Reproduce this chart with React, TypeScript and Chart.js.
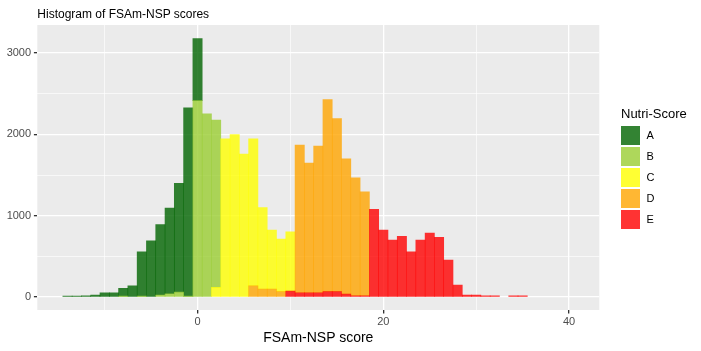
import React, { useEffect, useRef } from "react";
import { Chart, registerables } from "chart.js";

Chart.register(...registerables);

const FONT = '"Liberation Sans", Arial, Helvetica, sans-serif';

// Nutri-Score grades and fill colours (ggplot alpha 0.8)
const grades = ["A", "B", "C", "D", "E"];
const gradeColors = [
  "rgba(0,100,0,0.8)",
  "rgba(154,205,50,0.8)",
  "rgba(255,255,0,0.8)",
  "rgba(255,165,0,0.8)",
  "rgba(255,0,0,0.8)",
];

// Histogram bins (score -> count) per grade, bin width 1
const scoresA = [-14, -13, -12, -11, -10, -9, -8, -7, -6, -5, -4, -3, -2, -1, 0];
const countsA = [12, 12, 16, 25, 53, 53, 95, 139, 545, 693, 868, 1053, 1337, 2316, 763];

const scoresB = [-8, -6, -4, -3, -2, -1, 0, 1, 2];
const countsB = [12, 12, 25, 41, 61, 12, 2415, 2255, 2058];

const scoresC = [2, 3, 4, 5, 6, 7, 8, 9, 10];
const countsC = [119, 1947, 1999, 1758, 1810, 1004, 725, 647, 730];

const scoresD = [6, 7, 8, 9, 11, 12, 13, 14, 15, 16, 17, 18];
const countsD = [137, 98, 98, 66, 1816, 1594, 1804, 2364, 2129, 1663, 1449, 1279];

const scoresE = [10, 11, 12, 13, 14, 15, 16, 17, 18, 19, 20, 21, 22, 23, 24, 25, 26, 27, 28, 29, 30, 31, 32, 34, 35];
const countsE = [73, 53, 53, 53, 66, 66, 37, 16, 16, 1079, 824, 700, 748, 555, 700, 788, 734, 455, 147, 24, 24, 16, 16, 16, 16];

const xTicks = [-10, 0, 10, 20, 30, 40];
const xLabeled = [0, 20, 40];
const yTicks = [0, 500, 1000, 1500, 2000, 2500, 3000];
const yLabeled = [0, 1000, 2000, 3000];

const titleText = "Histogram of FSAm-NSP scores";
const xTitleText = "FSAm-NSP score";
const legendTitle = "Nutri-Score";

const PANEL = { left: 37.3, top: 25, right: 599.3, bottom: 310 };
const W = 701;
const H = 351;

const panelBg = {
  id: "panelBg",
  beforeDraw(chart: any) {
    const { ctx, chartArea } = chart;
    ctx.save();
    ctx.fillStyle = "#EBEBEB";
    ctx.fillRect(chartArea.left, chartArea.top, chartArea.right - chartArea.left, chartArea.bottom - chartArea.top);
    ctx.restore();
  },
};

function pts(scores: number[], counts: number[]) {
  return scores.map((s, i) => ({ x: s, y: counts[i] }));
}

export default function App() {
  const ref = useRef<HTMLCanvasElement | null>(null);

  useEffect(() => {
    if (!ref.current) return;
    const series = [
      pts(scoresA, countsA),
      pts(scoresB, countsB),
      pts(scoresC, countsC),
      pts(scoresD, countsD),
      pts(scoresE, countsE),
    ];
    // stack bottom-to-top: E, D, C, B, A
    const order = [4, 3, 2, 1, 0];
    const datasets = order.map((g) => ({
      label: grades[g],
      data: series[g],
      backgroundColor: gradeColors[g],
      borderWidth: 0,
      barPercentage: 1,
      categoryPercentage: 1,
    }));

    const major = (v: number, list: number[]) => list.includes(v);

    const chart = new Chart(ref.current, {
      type: "bar",
      data: { datasets } as any,
      plugins: [panelBg],
      options: {
        animation: false,
        responsive: false,
        devicePixelRatio: 1,
        layout: {
          padding: { left: 0, top: PANEL.top, right: W - PANEL.right, bottom: 0 },
        },
        plugins: {
          legend: { display: false },
          tooltip: { enabled: false },
          title: { display: false },
        },
        scales: {
          x: {
            type: "linear",
            stacked: true,
            min: -17.25,
            max: 43.25,
            offset: false,
            border: { display: false },
            afterBuildTicks: (scale: any) => {
              scale.ticks = xTicks.map((v) => ({ value: v }));
            },
            afterFit: (scale: any) => {
              scale.height = H - PANEL.bottom;
            },
            grid: {
              offset: false,
              color: "#FFFFFF",
              lineWidth: (c: any) => (major(c.tick?.value, xLabeled) ? 1.33 : 0.67),
              tickColor: (c: any) => (major(c.tick?.value, xLabeled) ? "#333333" : "rgba(0,0,0,0)"),
              tickWidth: 1.33,
              tickLength: 3.4,
              drawTicks: true,
            },
            ticks: {
              autoSkip: false,
              maxRotation: 0,
              padding: 1.5,
              color: "#4D4D4D",
              font: { family: FONT, size: 11 },
              callback: (v: any) => (xLabeled.includes(Number(v)) ? String(v) : ""),
            },
          },
          y: {
            type: "linear",
            stacked: true,
            min: -159,
            max: 3346,
            border: { display: false },
            afterBuildTicks: (scale: any) => {
              scale.ticks = yTicks.map((v) => ({ value: v }));
            },
            afterFit: (scale: any) => {
              scale.width = PANEL.left;
            },
            grid: {
              offset: false,
              color: "#FFFFFF",
              lineWidth: (c: any) => (major(c.tick?.value, yLabeled) ? 1.33 : 0.67),
              tickColor: (c: any) => (major(c.tick?.value, yLabeled) ? "#333333" : "rgba(0,0,0,0)"),
              tickWidth: 1.33,
              tickLength: 3.4,
              drawTicks: true,
            },
            ticks: {
              autoSkip: false,
              padding: 2.8,
              color: "#4D4D4D",
              font: { family: FONT, size: 11 },
              callback: (v: any) => (yLabeled.includes(Number(v)) ? String(v) : ""),
            },
          },
        },
      } as any,
    });
    return () => chart.destroy();
  }, []);

  const baselineTop = (baseline: number, fs: number) => baseline - 0.8465 * fs;

  const textStyle = (fs: number): React.CSSProperties => ({
    position: "absolute",
    fontFamily: FONT,
    fontSize: fs,
    lineHeight: `${fs}px`,
    whiteSpace: "nowrap",
    margin: 0,
  });

  return (
    <div style={{ position: "absolute", left: 0, top: 0, width: W, height: H, background: "#FFFFFF", overflow: "hidden" }}>
      <canvas ref={ref} width={W} height={H} style={{ position: "absolute", left: 0, top: 0, width: W, height: H }} />
      <div style={{ ...textStyle(12), left: PANEL.left, top: baselineTop(18.3, 12), color: "#000000" }}>{titleText}</div>
      <div
        style={{
          ...textStyle(14),
          left: (PANEL.left + PANEL.right) / 2,
          top: baselineTop(342, 14),
          transform: "translateX(-50%)",
          color: "#000000",
        }}
      >
        {xTitleText}
      </div>
      <div style={{ ...textStyle(13), left: 621, top: baselineTop(118.3, 13), color: "#000000" }}>{legendTitle}</div>
      {grades.map((g, i) => (
        <React.Fragment key={g}>
          <div
            style={{
              position: "absolute",
              left: 621,
              top: 126 + i * 21,
              width: 19,
              height: 19,
              background: gradeColors[i],
            }}
          />
          <div style={{ ...textStyle(11), left: 646.5, top: baselineTop(126 + i * 21 + 9.5 + 3.9, 11), color: "#000000" }}>{g}</div>
        </React.Fragment>
      ))}
    </div>
  );
}
